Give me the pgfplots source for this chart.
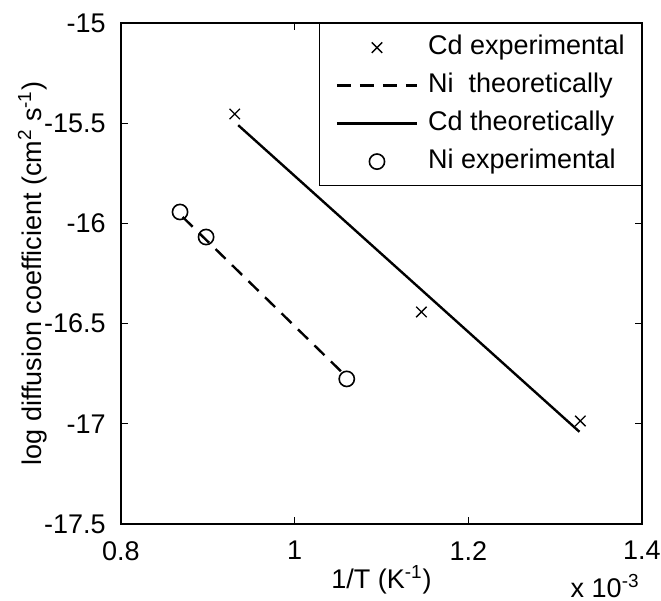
\documentclass[border=0pt]{standalone}
\usepackage{fontspec}
\setmainfont{Liberation Sans}
\usepackage{pgfplots}
\pgfplotsset{compat=1.18}

\newcommand{\chartfont}{\fontsize{13.5}{16}\selectfont}

\begin{document}
\begin{tikzpicture}
% page size: 661 x 601 px at 0.5 pt per px
\path[use as bounding box] (-60.5pt,-38.5pt) rectangle (270pt,262pt);
\begin{axis}[
    at={(0pt,0pt)}, anchor=south west,
    scale only axis,
    width=260.5pt, height=250.5pt,
    xmin=0.8, xmax=1.4,
    ymin=-17.5, ymax=-15,
    xtick={0.8,1,1.2,1.4},
    ytick={-17.5,-17,-16.5,-16,-15.5,-15},
    tick align=inside,
    tick pos=both,
    major tick length=3.5pt,
    axis line style={black, line width=0.6pt},
    every tick/.style={black, line width=0.6pt},
    tick label style={font=\chartfont},
    /pgf/number format/assume math mode=true,
    xticklabel style={inner sep=0pt, yshift=-8.5pt},
    yticklabel style={inner sep=0pt, xshift=-7.5pt},
    label style={font=\chartfont},
    xlabel={1/T (K\textsuperscript{-1})},
    ylabel={log diffusion coefficient (cm\textsuperscript{2} s\textsuperscript{-1})},
    xlabel style={at={(axis description cs:0.5,-0.1118)}, anchor=center},
    ylabel style={at={(axis description cs:-0.17,0.5)}, anchor=center},
    legend style={at={(1,1)}, anchor=north east, draw=black, line width=0.6pt,
        fill=white, inner xsep=8.3pt, inner ysep=2.5pt, row sep=0pt,
        column sep=5pt, font=\chartfont,
        nodes={inner xsep=0pt, inner ysep=3.2pt, text height=9.8pt, text depth=2.8pt}},
    legend cell align=left,
    legend image code/.code={\draw[mark repeat=2,mark phase=2,#1]
        plot coordinates {(0pt,0pt) (20pt,0pt) (40pt,0pt)};},
]
\addplot[only marks, mark=x, mark size=3.7pt, mark options={black, line width=0.65pt}]
    coordinates {(0.931,-15.454) (1.146,-16.442) (1.329,-16.986)};
\addlegendentry{Cd experimental}

\addplot[black, line width=1.2pt, dash pattern=on 7pt off 4.5pt]
    coordinates {(0.871,-15.968) (1.060,-16.766)};
\addlegendentry{Ni~~theoretically}

\addplot[black, line width=1.2pt]
    coordinates {(0.935,-15.51) (1.328,-17.04)};
\addlegendentry{Cd theoretically}

\addplot[only marks, mark=o, mark size=3.8pt, mark options={black, line width=0.8pt}]
    coordinates {(0.868,-15.943) (0.898,-16.068) (1.060,-16.776)};
\addlegendentry{Ni experimental}
\end{axis}
% exponent of the x axis, below its right end
\node[anchor=base east, font=\chartfont, inner sep=0pt]
    at ([xshift=-1pt,yshift=-37pt]current axis.south east) {x 10\textsuperscript{-3}};
\end{tikzpicture}
\end{document}
